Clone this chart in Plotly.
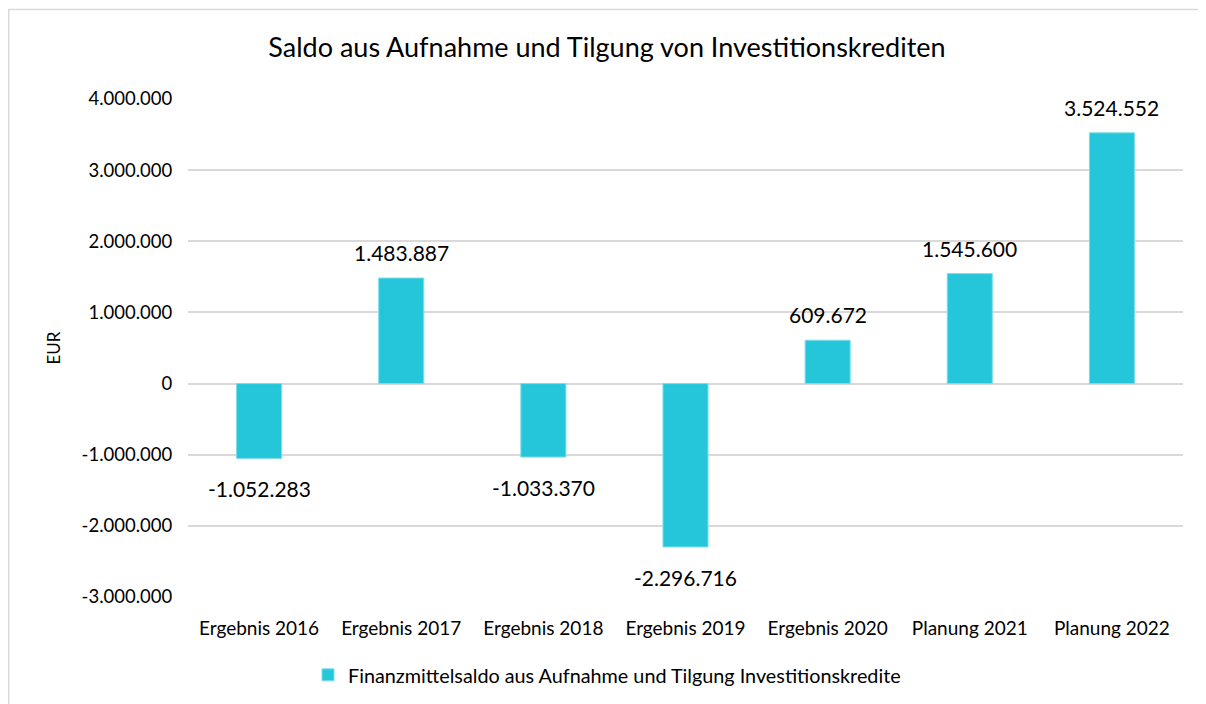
import plotly.graph_objects as go

categories = ["Ergebnis 2016", "Ergebnis 2017", "Ergebnis 2018", "Ergebnis 2019",
              "Ergebnis 2020", "Planung 2021", "Planung 2022"]
values = [-1052283, 1483887, -1033370, -2296716, 609672, 1545600, 3524552]
tick_values = [-3000000, -2000000, -1000000, 0, 1000000, 2000000, 3000000, 4000000]

series_name = "Finanzmittelsaldo aus Aufnahme und Tilgung Investitionskredite"
bar_color = "#26C6DA"
font_family = "Lato, 'Open Sans', sans-serif"


def de_fmt(v):
    # German thousands separator
    return f"{v:,}".replace(",", ".")


fig = go.Figure()
fig.add_trace(go.Bar(
    x=categories, y=values, name=series_name,
    marker=dict(color=bar_color, line=dict(color="#7FDCE8", width=1)),
))

# data labels outside the bar ends, like Excel
for cat, v in zip(categories, values):
    fig.add_annotation(
        x=cat, y=v, text=de_fmt(v), showarrow=False,
        yanchor="bottom" if v >= 0 else "top",
        yshift=11 if v >= 0 else -16,
        font=dict(size=21, color="#000000"),
    )

# light frame around the chart (Excel style)
fig.add_shape(type="rect", xref="paper", yref="paper",
              x0=-0.1802, x1=1.05, y0=-0.25, y1=1.1797,
              line=dict(color="#D9D9D9", width=1.5), layer="below")

fig.update_layout(
    width=1198, height=696,
    paper_bgcolor="white", plot_bgcolor="white",
    font=dict(family=font_family, color="#000000"),
    title=dict(text="Saldo aus Aufnahme und Tilgung von Investitionskrediten",
               x=0.5, xanchor="center", y=0.9425, yanchor="middle",
               font=dict(size=27, color="#000000")),
    margin=dict(l=180, r=23, t=91, b=107),
    bargap=0.683,
    showlegend=True,
    legend=dict(orientation="h", xref="container", yref="container",
                x=0.5, xanchor="center", y=0.0417, yanchor="middle",
                font=dict(size=19.8), itemwidth=30),
    xaxis=dict(showline=False, ticks="outside", ticklen=14, tickcolor="rgba(0,0,0,0)",
               tickfont=dict(size=19), automargin=False),
    yaxis=dict(range=[-3000000, 4000000], tickvals=tick_values,
               ticktext=[de_fmt(v) for v in tick_values],
               tickfont=dict(size=18.5), showgrid=True, gridcolor="#D9D9D9", gridwidth=1.5,
               zeroline=False, showline=False, ticks="outside", ticklen=11,
               tickcolor="rgba(0,0,0,0)", automargin=False,
               title=dict(text="EUR", font=dict(size=17), standoff=16)),
)

fig.write_html("out.html")
